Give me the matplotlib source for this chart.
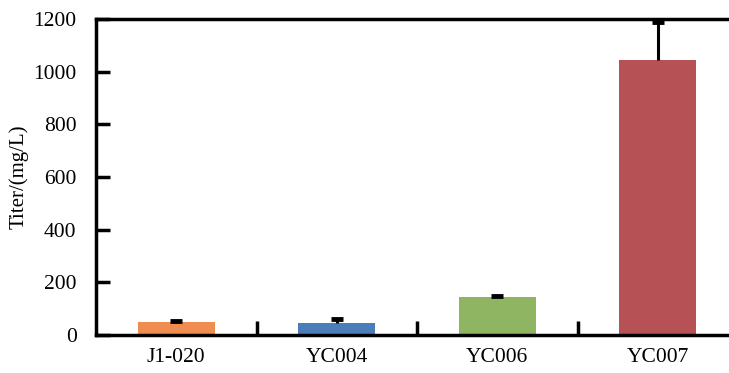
import matplotlib
matplotlib.use('Agg')
import matplotlib.pyplot as plt
import numpy as np

strains = ['J1-020', 'YC004', 'YC006', 'YC007']
titer = [49, 46, 144, 1044]
titer_err = [5, 14, 4, 145]
colors = ['#EF8C4F', '#4A7DBA', '#8FB462', '#B65155']

plt.rcParams['font.family'] = ['Liberation Serif', 'DejaVu Serif']

fig = plt.figure(figsize=(7.29, 3.73), dpi=100)
ax = fig.add_axes([96/729, 38/373, 642/729, 316/373])

x = np.arange(len(strains))
ax.bar(x, titer, width=0.48, color=colors, zorder=2)
eb = ax.errorbar(x, titer, yerr=[np.zeros(len(titer)), titer_err], fmt='none',
                 ecolor='black', elinewidth=2.2, capsize=4, capthick=3.5, zorder=3)
# only the upper caps
eb[1][0].set_visible(False)

ax.set_xlim(-0.5, 3.5)
ax.set_ylim(0, 1200)
ax.set_yticks(np.arange(0, 1201, 200))
ax.set_xticks(x)
ax.set_xticklabels(strains)
ax.set_xticks(x[:-1] + 0.5, minor=True)
ax.tick_params(axis='x', which='major', length=0, pad=9, labelsize=15.5)
ax.tick_params(axis='x', which='minor', direction='in', length=10, width=2.5)
ax.tick_params(axis='y', direction='in', length=10, width=2.5, pad=14, labelsize=15.5)
ax.set_ylabel('Titer/(mg/L)', fontsize=15)
ax.yaxis.set_label_coords(-0.105, 0.5)

for s in ['left', 'bottom', 'top']:
    ax.spines[s].set_linewidth(2.5)
ax.spines['right'].set_visible(False)

fig.savefig('out.png', dpi=100)
